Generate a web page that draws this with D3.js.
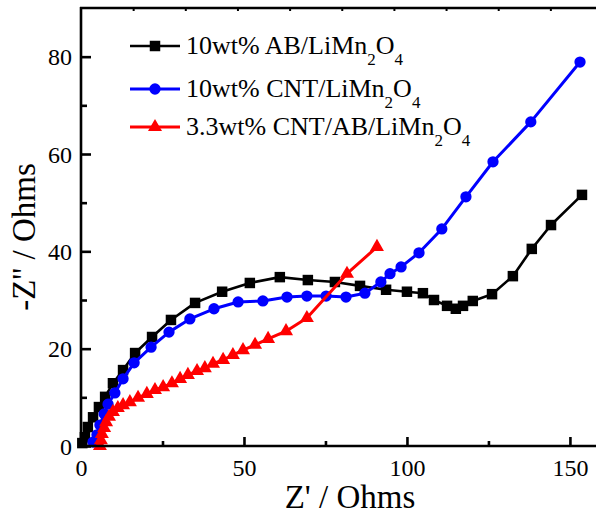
<!DOCTYPE html>
<html>
<head>
<meta charset="utf-8">
<script src="https://cdn.jsdelivr.net/npm/d3@7"></script>
<style>
  html, body { margin: 0; padding: 0; background: #fff; }
  svg { display: block; }
  svg text { font-family: 'Liberation Serif', 'Times New Roman', Times, serif !important; fill: #000; }
</style>
</head>
<body>
<svg id="chart" width="596" height="516"></svg>
<script>
// Nyquist plots (Z' vs -Z'') for three conductive-additive electrodes
const abLMO = [
  [0.4,0.6],[1.2,1.8],[2.1,3.9],[3.7,5.9],[5.5,8.0],[7.4,10.1],[9.8,12.9],[12.9,15.6],
  [16.6,19.1],[21.8,22.4],[27.6,25.9],[35.0,29.4],[43.3,31.7],[51.8,33.5],[61.0,34.7],
  [69.6,34.1],[77.9,33.7],[85.6,32.9],[93.6,32.1],[100.0,31.7],[104.9,31.4],[108.3,30.0],
  [112.3,28.8],[115.0,28.2],[117.2,28.8],[120.2,29.8],[126.1,31.2],[132.5,34.9],
  [138.3,40.5],[144.2,45.4],[153.7,51.6]
];
const cntLMO = [
  [3.7,0.8],[4.9,2.3],[5.8,4.3],[7.1,6.6],[8.3,8.6],[10.4,10.9],[12.9,13.8],[16.3,17.1],
  [21.5,20.3],[27.0,23.4],[33.4,26.1],[40.8,28.2],[48.2,29.6],[55.8,29.8],[63.2,30.6],
  [69.3,30.8],[75.2,30.8],[81.3,30.6],[87.1,31.4],[92.0,33.7],[94.8,35.4],[98.2,36.8],
  [103.7,39.7],[110.7,44.6],[118.1,51.2],[126.4,58.4],[138.0,66.6],[153.1,78.9]
];
const cntAbLMO = [
  [5.8,0.0],[6.1,1.2],[6.4,2.5],[7.1,3.7],[7.7,4.9],[8.6,6.0],[9.8,7.0],[11.3,7.8],
  [12.9,8.4],[15.0,9.0],[17.5,9.9],[20.2,10.7],[22.7,11.5],[25.2,12.1],[27.9,12.9],
  [30.4,13.8],[32.8,14.6],[35.6,15.4],[38.0,16.0],[40.5,16.9],[43.6,17.7],[46.6,18.7],
  [49.7,19.7],[53.4,20.8],[57.4,22.0],[62.9,23.6],[69.3,26.3],[81.6,35.4],[90.8,40.9]
];

const xMajorTicks = [0, 50, 100, 150];
const xMinorTicks = [25, 75, 125];
const yMajorTicks = [0, 20, 40, 60, 80];
const yMinorTicks = [10, 30, 50, 70];
const topTicks = [16, 32, 48, 64, 80, 96, 112, 128, 144];

const legendLabels = [
  { main: "10wt% AB/LiMn", tail: "O" },
  { main: "10wt% CNT/LiMn", tail: "O" },
  { main: "3.3wt% CNT/AB/LiMn", tail: "O" }
];

const series = [
  { data: abLMO, color: "#000000", shape: "square", width: 2.6 },
  { data: cntLMO, color: "#0000ff", shape: "circle", width: 3 },
  { data: cntAbLMO, color: "#ff0000", shape: "triangle", width: 3 }
];

const serif = "'Liberation Serif', 'Times New Roman', serif";
const svg = d3.select("#chart");
const plotLeft = 81, plotRight = 596, plotTop = 8, plotBottom = 446;

const x = d3.scaleLinear().domain([0, 158]).range([plotLeft, plotRight]);
const y = d3.scaleLinear().domain([0, 90]).range([plotBottom, plotTop]);

const symbolFor = {
  square: d3.symbol().type(d3.symbolSquare).size(110),
  circle: d3.symbol().type(d3.symbolCircle).size(100),
  triangle: d3.symbol().type(d3.symbolTriangle).size(85)
};

const line = d3.line().x(d => x(d[0])).y(d => y(d[1]));

const plot = svg.append("g");
series.forEach(s => {
  plot.append("path")
    .datum(s.data)
    .attr("d", line)
    .attr("fill", "none")
    .attr("stroke", s.color)
    .attr("stroke-width", s.width)
    .attr("stroke-linejoin", "round");
  plot.selectAll(null)
    .data(s.data)
    .enter().append("path")
    .attr("d", symbolFor[s.shape])
    .attr("transform", d => `translate(${x(d[0])},${y(d[1])})`)
    .attr("fill", s.color);
});

// frame: left, bottom and top edges
const axisColor = "#000";
const axisW = 2.6;
svg.append("line").attr("x1", plotLeft).attr("x2", plotLeft).attr("y1", plotTop - 1).attr("y2", plotBottom + 1)
  .attr("stroke", axisColor).attr("stroke-width", axisW);
svg.append("line").attr("x1", plotLeft - 1).attr("x2", plotRight).attr("y1", plotBottom).attr("y2", plotBottom)
  .attr("stroke", axisColor).attr("stroke-width", axisW);
svg.append("line").attr("x1", plotLeft - 1).attr("x2", plotRight).attr("y1", plotTop).attr("y2", plotTop)
  .attr("stroke", axisColor).attr("stroke-width", axisW);

// bottom axis, inward ticks
const xAxis = d3.axisBottom(x).tickValues(xMajorTicks).tickSize(-9).tickFormat(d3.format("d"));
const gx = svg.append("g").attr("transform", `translate(0,${plotBottom})`).call(xAxis)
  .attr("font-family", serif).attr("font-size", 24);
gx.select(".domain").remove();
gx.selectAll(".tick line").attr("stroke-width", 2.6);
gx.selectAll(".tick text")
  .attr("y", 30).attr("dy", null)
  .style("font-family", serif).style("font-size", "24px");

const xMinor = d3.axisBottom(x).tickValues(xMinorTicks).tickSize(-5).tickFormat("");
const gxm = svg.append("g").attr("transform", `translate(0,${plotBottom})`).call(xMinor);
gxm.select(".domain").remove();
gxm.selectAll(".tick line").attr("stroke-width", 2.6);

// left axis, inward ticks
const yAxis = d3.axisLeft(y).tickValues(yMajorTicks).tickSize(-10).tickFormat(d3.format("d"));
const gy = svg.append("g").attr("transform", `translate(${plotLeft},0)`).call(yAxis)
  .attr("font-family", serif).attr("font-size", 24);
gy.select(".domain").remove();
gy.selectAll(".tick line").attr("stroke-width", 2.6);
gy.selectAll(".tick text")
  .attr("x", -9).attr("dy", "0.34em")
  .style("font-family", serif).style("font-size", "24px");

const yMinor = d3.axisLeft(y).tickValues(yMinorTicks).tickSize(-6).tickFormat("");
const gym = svg.append("g").attr("transform", `translate(${plotLeft},0)`).call(yMinor);
gym.select(".domain").remove();
gym.selectAll(".tick line").attr("stroke-width", 2.6);

// top edge ticks
const gt = svg.append("g").attr("transform", `translate(0,${plotTop})`)
  .call(d3.axisTop(x).tickValues(topTicks).tickSize(-3).tickFormat(""));
gt.select(".domain").remove();
gt.selectAll(".tick line").attr("stroke-width", 2);

// axis titles
svg.append("text")
  .attr("x", 350).attr("y", 508)
  .attr("text-anchor", "middle")
  .style("font-family", serif).style("font-size", "33px")
  .text("Z' / Ohms");

svg.append("text")
  .attr("transform", "translate(35,237) rotate(-90)")
  .attr("text-anchor", "middle")
  .style("font-family", serif).style("font-size", "33px")
  .text("-Z'' / Ohms");

// legend
const legendRows = [46, 89, 127];
const legend = svg.append("g");
series.forEach((s, i) => {
  const ly = legendRows[i];
  legend.append("line")
    .attr("x1", 130).attr("x2", 180).attr("y1", ly).attr("y2", ly)
    .attr("stroke", s.color).attr("stroke-width", s.width);
  legend.append("path")
    .attr("d", symbolFor[s.shape])
    .attr("transform", `translate(155,${ly})`)
    .attr("fill", s.color);
  const t = legend.append("text")
    .attr("x", 186).attr("y", ly + 8)
    .style("font-family", serif).style("font-size", "26px");
  t.append("tspan").text(legendLabels[i].main);
  t.append("tspan").style("font-size", "17px").attr("dy", 11).text("2");
  t.append("tspan").style("font-size", "26px").attr("dy", -11).text(legendLabels[i].tail);
  t.append("tspan").style("font-size", "17px").attr("dy", 11).text("4");
});
</script>
</body>
</html>
